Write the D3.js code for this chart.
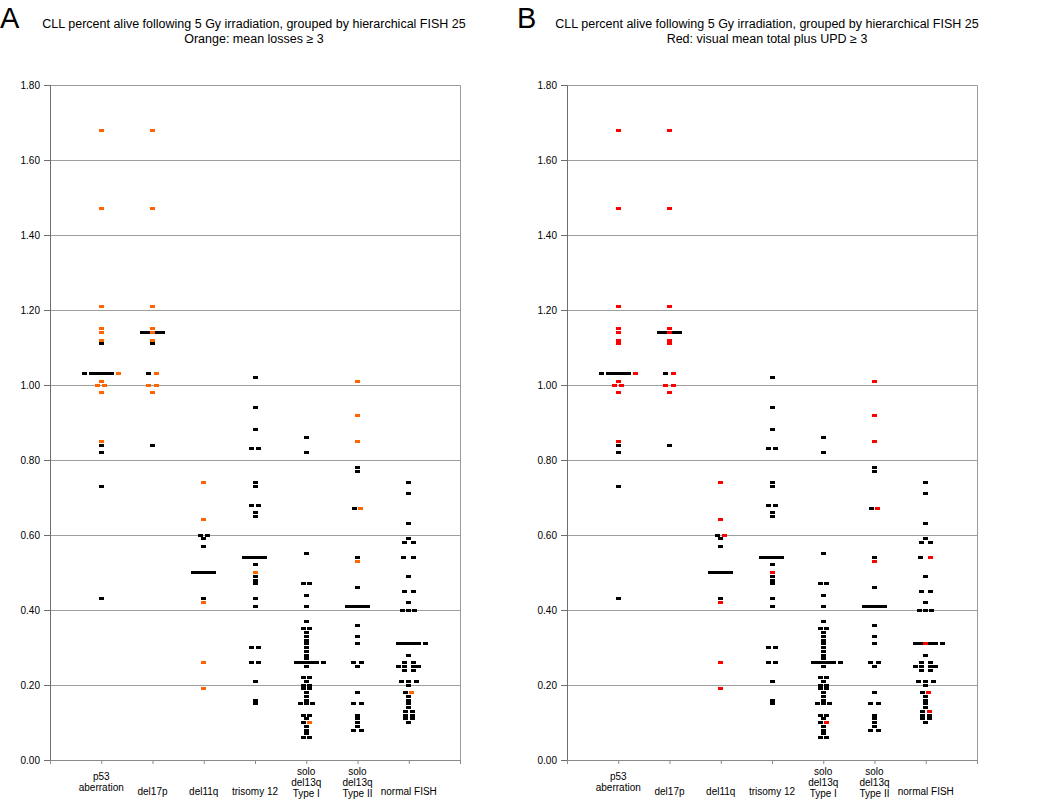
<!DOCTYPE html>
<html><head><meta charset="utf-8">
<script src="https://cdn.jsdelivr.net/npm/d3@7"></script>
<style>
body{margin:0;background:#fff}
svg{display:block}
text{font-family:"Liberation Sans",Arial,Helvetica,sans-serif;fill:#000}
</style>
</head><body>
<svg id="c" width="1050" height="803"></svg>
<script>
// ---------- DATA ----------
const categories = [["p53","aberration"],["del17p"],["del11q"],["trisomy 12"],["solo","del13q","Type I"],["solo","del13q","Type II"],["normal FISH"]];
const yTicks = [0,0.2,0.4,0.6,0.8,1.0,1.2,1.4,1.6,1.8];
const means = [1.03,1.14,0.50,0.54,0.26,0.41,0.31];
const titleText = "CLL percent alive following 5 Gy irradiation, grouped by hierarchical FISH 25";
const subtitleA = "Orange: mean losses \u2265 3";
const subtitleB = "Red: visual mean total plus UPD \u2265 3";
// each point: [value, horizontal slot, highlighted in A (orange), highlighted in B (red)]
const p53 = [[1.68,0,1,1],[1.47,0,1,1],[1.21,0,1,1],[1.15,0,1,1],[1.14,0,1,1],[1.12,0,1,1],[1.11,0,0,1],
 [1.03,-2.7,0,0],[1.03,2.75,1,1],[1.01,0,1,1],[1.00,-0.6,1,1],[1.00,0.6,1,1],[0.98,0,1,1],
 [0.85,0,1,1],[0.84,0,0,0],[0.82,0,0,0],[0.73,0,0,0],[0.43,0,0,0]];
const del17p = [[1.68,0,1,1],[1.47,0,1,1],[1.21,0,1,1],[1.15,0,1,1],[1.14,0,1,1],[1.12,0,1,1],[1.11,0,0,1],
 [1.03,-0.6,0,0],[1.03,0.6,1,1],[1.00,-0.6,1,1],[1.00,0.6,1,1],[0.98,0,1,1],[0.84,0,0,0]];
const del11q = [[0.74,0,1,1],[0.64,0,1,1],[0.60,-0.6,0,0],[0.60,0.6,0,1],[0.59,0,0,0],[0.57,0,0,0],
 [0.43,0,0,0],[0.42,0,1,1],[0.26,0,1,1],[0.19,0,1,1]];
const trisomy12 = [[1.02,0,0,0],[0.94,0,0,0],[0.88,0,0,0],[0.83,-0.5,0,0],[0.83,0.5,0,0],[0.74,0,0,0],[0.73,0,0,0],
 [0.68,-0.5,0,0],[0.68,0.5,0,0],[0.66,0,0,0],[0.65,0,0,0],[0.52,0,0,0],[0.50,0,1,1],
 [0.49,0,0,0],[0.48,0,0,0],[0.47,0,0,0],[0.43,0,0,0],[0.41,0,0,0],
 [0.30,-0.5,0,0],[0.30,0.5,0,0],[0.26,-0.5,0,0],[0.26,0.5,0,0],[0.21,0,0,0],[0.16,0,0,0],[0.15,0,0,0]];
const del13qTypeI = [[0.86,0,0,0],[0.82,0,0,0],[0.55,0,0,0],[0.47,-0.5,0,0],[0.47,0.5,0,0],[0.44,0,0,0],[0.41,0,0,0],[0.37,0,0,0],
 [0.35,-0.5,0,0],[0.35,0.5,0,0],[0.34,0,0,0],[0.33,0,0,0],[0.32,0,0,0],[0.31,0,0,0],[0.30,0,0,0],[0.29,0,0,0],[0.28,0,0,0],[0.27,0,0,0],
 [0.26,-1,0,0],[0.26,0,0,0],[0.26,1,0,0],[0.26,2.75,0,0],[0.25,0,0,0],
 [0.22,-0.5,0,0],[0.22,0.5,0,0],[0.21,0,0,0],[0.20,-0.5,0,0],[0.20,0.5,0,0],
 [0.19,-0.5,0,0],[0.19,0.5,0,0],[0.18,0,0,0],[0.17,0,0,0],[0.16,0,0,0],[0.15,-1,0,0],[0.15,0,0,0],[0.15,1,0,0],
 [0.12,-0.5,0,0],[0.12,0.5,0,0],[0.11,0,0,0],[0.10,-0.5,0,0],[0.10,0.5,1,1],
 [0.09,0,0,0],[0.08,0,0,0],[0.07,0,0,0],[0.06,-0.5,0,0],[0.06,0.5,0,0]];
const del13qTypeII = [[1.01,0,1,1],[0.92,0,1,1],[0.85,0,1,1],[0.78,0,0,0],[0.77,0,0,0],[0.67,-0.5,0,0],[0.67,0.5,1,1],
 [0.54,0,0,0],[0.53,0,1,1],[0.46,0,0,0],[0.36,0,0,0],[0.33,0,0,0],[0.31,0,0,0],
 [0.26,-0.7,0,0],[0.26,0.7,0,0],[0.25,0,0,0],[0.18,0,0,0],[0.15,-0.7,0,0],[0.15,0.7,0,0],
 [0.12,0,0,0],[0.11,0,0,0],[0.10,0,0,0],[0.09,0,0,0],[0.08,-0.7,0,0],[0.08,0.7,0,0]];
const normalFISH = [[0.74,0,0,0],[0.71,0,0,0],[0.63,0,0,0],[0.59,0,0,0],[0.58,-0.7,0,0],[0.58,0.7,0,0],
 [0.54,-0.8,0,0],[0.54,0.8,0,1],[0.49,0,0,0],[0.45,-0.7,0,0],[0.45,0.7,0,0],[0.42,0,0,0],
 [0.40,-1,0,0],[0.40,0,0,0],[0.40,1,0,0],[0.31,0,0,1],[0.31,2.75,0,0],[0.28,0,0,0],
 [0.26,-0.7,0,0],[0.26,0.7,0,0],[0.25,-1.6,0,0],[0.25,-0.7,0,0],[0.25,0.7,0,0],[0.25,1.6,0,0],[0.24,-0.7,0,0],[0.24,0.7,0,0],
 [0.21,-1.2,0,0],[0.21,0,0,0],[0.21,1.2,0,0],[0.20,0,0,0],[0.18,-0.5,0,0],[0.18,0.5,1,1],
 [0.17,0,0,0],[0.16,0,0,0],[0.15,0,0,0],[0.14,0,0,0],[0.13,-0.6,0,0],[0.13,0.6,0,1],[0.12,-0.6,0,0],[0.12,0.6,0,0],[0.11,-0.6,0,0],[0.11,0.6,0,0],[0.10,0,0,0]];
const groups = [p53, del17p, del11q, trisomy12, del13qTypeI, del13qTypeII, normalFISH];

// ---------- DRAW ----------
const svg = d3.select("#c");
const plotL = 50, plotR = 460, yTop = 85, yBot = 760;
const slotW = 0.12;      // x units per horizontal slot
const mkW = 5, mkH = 3;  // marker size
const barW = 0.49;       // mean bar width, x units

function panel(offsetX, letter, sub, hiColor, flag, titleCx) {
  const g = svg.append("g").attr("transform", `translate(${offsetX},0)`);
  const x = d3.scaleLinear().domain([0, 8]).range([plotL, plotR]);
  const y = d3.scaleLinear().domain([0, 1.8]).range([yBot, yTop]);

  g.append("text").attr("x", 0).attr("y", 28).attr("font-size", 29).text(letter);
  g.append("text").attr("x", titleCx).attr("y", 28).attr("text-anchor", "middle").attr("font-size", 12.5).text(titleText);
  g.append("text").attr("x", titleCx).attr("y", 43).attr("text-anchor", "middle").attr("font-size", 12.5).text(sub);

  // gridlines
  g.append("g").attr("transform", `translate(${plotL},0)`)
    .call(d3.axisLeft(y).tickValues(yTicks.slice(1)).tickSize(-(plotR - plotL)).tickFormat(""))
    .call(s => { s.select(".domain").remove(); s.selectAll(".tick line").attr("stroke", "#a0a0a0").attr("shape-rendering", "crispEdges"); });
  // top/right border
  g.append("path").attr("d", `M${plotL},${yTop + 0.5}H${plotR + 0.5}V${yBot}`).attr("fill", "none").attr("stroke", "#9a9a9a");

  // y axis
  const ya = g.append("g").attr("transform", `translate(${plotL},0)`)
    .call(d3.axisLeft(y).tickValues(yTicks).tickFormat(d3.format(".2f")).tickSize(6).tickPadding(4));
  ya.select(".domain").attr("stroke", "#6e6e6e");
  ya.selectAll(".tick line").attr("stroke", "#6e6e6e");
  ya.selectAll("text").attr("font-size", 10).attr("font-family", "Liberation Sans, Arial, sans-serif").attr("fill", "#000");

  // x axis
  const xa = g.append("g").attr("transform", `translate(0,${yBot})`)
    .call(d3.axisBottom(x).tickValues(d3.range(0, 9)).tickSize(4).tickFormat(""));
  xa.select(".domain").attr("stroke", "#8a8a8a");
  xa.selectAll(".tick line").attr("stroke", "#8a8a8a");

  // category labels
  const baseLines = {1: [795], 2: [780, 791], 3: [775, 786, 797]};
  categories.forEach((lines, i) => {
    const t = g.append("text").attr("text-anchor", "middle").attr("font-size", 10);
    lines.forEach((l, j) => t.append("tspan").attr("x", x(i + 1)).attr("y", baseLines[lines.length][j]).text(l));
  });

  const pts = [];
  groups.forEach((arr, i) => arr.forEach(d => pts.push({cat: i + 1, v: d[0], s: d[1], hi: d[flag]})));
  const mark = sel => sel.attr("x", d => Math.round(x(d.cat + d.s * slotW) - mkW / 2))
    .attr("y", d => Math.round(y(d.v) - mkH / 2)).attr("width", mkW).attr("height", mkH)
    .attr("shape-rendering", "crispEdges");

  g.append("g").selectAll("rect").data(pts.filter(d => !d.hi)).join("rect").call(mark).attr("fill", "#000");
  g.append("g").selectAll("rect").data(means).join("rect")
    .attr("x", (d, i) => Math.round(x(i + 1 - barW / 2))).attr("width", x(barW) - x(0))
    .attr("y", d => Math.round(y(d) - 1.5)).attr("height", 3).attr("fill", "#000").attr("shape-rendering", "crispEdges");
  g.append("g").selectAll("rect").data(pts.filter(d => d.hi)).join("rect").call(mark).attr("fill", hiColor);
}

panel(0, "A", subtitleA, "#ff6600", 2, 254);
panel(517, "B", subtitleB, "#ff0000", 3, 250);
</script>
</body></html>
